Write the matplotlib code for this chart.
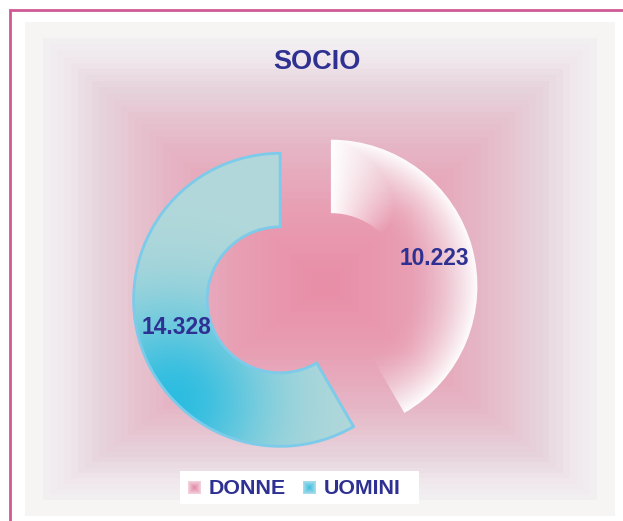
import numpy as np
import matplotlib
matplotlib.use("Agg")
import matplotlib.pyplot as plt
from matplotlib.colors import LinearSegmentedColormap, to_rgb
from matplotlib.patches import Rectangle

plt.rcParams['font.family'] = ['Liberation Sans', 'DejaVu Sans']

title = 'SOCIO'
labels = ['DONNE', 'UOMINI']
values = [10223, 14328]

NAVY = '#2e3192'
W, H = 623, 521


def py(y):
    # pixel row -> data y
    return H - y


fig = plt.figure(figsize=(W / 100, H / 100), dpi=100)
ax = fig.add_axes([0, 0, 1, 1])

# outer frame (left + top only)
ax.plot([10, 10, W], [0, py(10), py(10)], color='#cf5a93', lw=2,
        solid_joinstyle='miter', zorder=5)

# panel + box gradient
ax.add_patch(Rectangle((25, py(516)), 590, 494, color='#f7f5f4', lw=0, zorder=0))
x0, x1, y0, y1 = 43, 597, 38, 500
cx, cy = 325, 285
X, Y = np.meshgrid(np.arange(x0, x1) + 0.5, np.arange(y0, y1) + 0.5)
tx = np.where(X < cx, (cx - X) / (cx - x0), (X - cx) / (x1 - cx))
ty = np.where(Y < cy, (cy - Y) / (cy - y0), (Y - cy) / (y1 - cy))
t = np.floor(np.maximum(tx, ty) * 40) / 40
bg = LinearSegmentedColormap.from_list('bg', [
    (0.0, '#e98ea8'), (0.3, '#e89fb4'), (0.55, '#e6b6c6'),
    (0.78, '#e7d3dc'), (0.9, '#efe7ec'), (1.0, '#f4f2f2')])
ax.imshow(bg(t), extent=(x0, x1, py(y1), py(y0)), origin='upper',
          interpolation='nearest', aspect='auto', zorder=1)

total = sum(values)
wedges, _, autotexts = ax.pie(
    values, startangle=90, counterclock=False, radius=146.5,
    center=(305.5, py(293)), explode=[26.3, 26.3],
    autopct=lambda p: f"{round(p * total / 100):,}".replace(',', '.'),
    pctdistance=0.73,
    wedgeprops=dict(width=73.5, linewidth=0),
    textprops=dict(color=NAVY, fontsize=16.4, fontweight='bold'))

for w in wedges:
    w.set_zorder(3)
for tx_ in autotexts:
    tx_.set_zorder(6)

# gradient fills clipped to wedges
R, RIN = 146.5, 73.0
for i, w in enumerate(wedges):
    wcx, wcy = w.center
    gx, gy = np.meshgrid(np.arange(wcx - R - 2, wcx + R + 2),
                         np.arange(wcy - R - 2, wcy + R + 2))
    rr = np.hypot(gx - wcx, gy - wcy)
    th = np.degrees(np.arctan2(gy - wcy, gx - wcx))
    img = np.zeros(gx.shape + (4,))
    if i == 0:
        a = np.clip((90 - th) / 150, 0, 1)
        top = np.clip(1 - a / 0.3, 0, 1)
        rad = np.clip((rr - RIN) / (R - RIN), 0, 1) ** 2 * 0.97
        img[..., :3] = 1.0
        img[..., 3] = np.clip(np.maximum(top, rad), 0, 1)
    else:
        base = np.array(to_rgb('#b3d8da'))
        cyan = np.array(to_rgb('#2dbde1'))
        d = np.hypot(gx - 172, gy - py(402))
        k = np.exp(-(d / 95) ** 2)[..., None]
        img[..., :3] = base * (1 - k) + cyan * k
        img[..., 3] = 1.0
    im = ax.imshow(img, extent=(gx.min(), gx.max() + 1, gy.min(), gy.max() + 1),
                   origin='lower', interpolation='bilinear', aspect='auto', zorder=2)
    im.set_clip_path(w)
    w.set_facecolor('none')

wedges[1].set_edgecolor('#7ccbea')
wedges[1].set_linewidth(2)

ax.text(317, py(62), title, ha='center', va='center', color=NAVY,
        fontsize=19.5, fontweight='bold', zorder=6)

# legend
ax.add_patch(Rectangle((180, py(504)), 239, 33, color='white', lw=0, zorder=4))
marker_cols = [('#f2cfda', '#e287a6'), ('#a6dbea', '#3dbfe0')]
for (mx, tx_l), lab, (c_out, c_in) in zip([(188, 209), (303, 324)], labels, marker_cols):
    mX, mY = np.meshgrid(np.linspace(-1, 1, 13), np.linspace(-1, 1, 13))
    k = np.clip(np.maximum(abs(mX), abs(mY)), 0, 1)[..., None]
    m = np.array(to_rgb(c_in)) * (1 - k) + np.array(to_rgb(c_out)) * k
    ax.imshow(m, extent=(mx, mx + 13, py(494), py(481)), origin='upper',
              interpolation='nearest', aspect='auto', zorder=5)
    ax.text(tx_l, py(488), lab, ha='left', va='center', color=NAVY,
            fontsize=15.4, fontweight='bold', zorder=6)

ax.set_xlim(0, W)
ax.set_ylim(0, H)
ax.set_aspect('auto')
ax.axis('off')

fig.savefig('out.png', dpi=100, facecolor='white')
